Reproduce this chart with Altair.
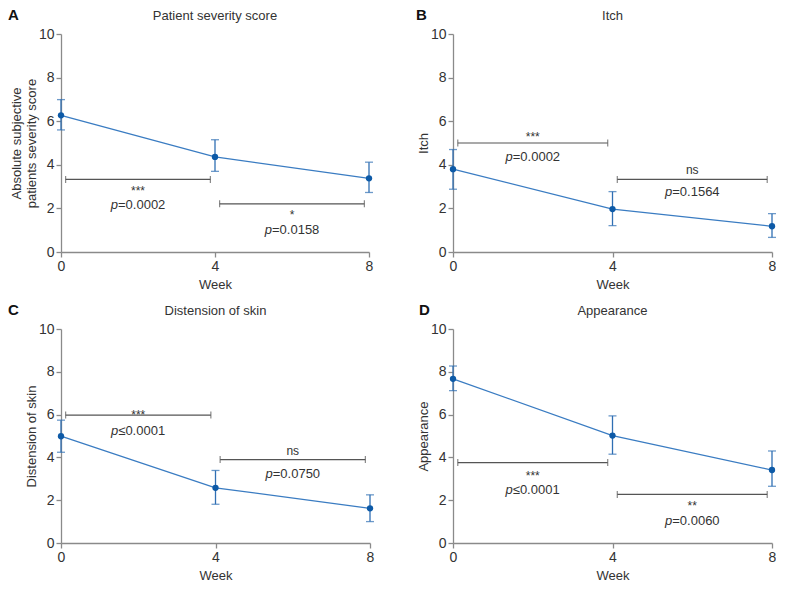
import altair as alt
import pandas as pd

FONT = "Liberation Sans"
LINE_C = "#3a7cc2"
PT_C = "#0d5aa7"
ERR_C = "#2f6fb3"
BR_C = "#555555"
TXT_C = "#333333"

weeks = [0, 4, 8]

# Panel A
a_mean = [6.27, 4.36, 3.38]
a_low = [5.60, 3.70, 2.73]
a_high = [6.99, 5.15, 4.12]
a_br_x1 = [0.12, 4.12]
a_br_x2 = [3.88, 7.88]
a_br_y = [3.33, 2.21]
a_star = ["***", "*"]
a_star_y = [2.60, 1.53]
a_p = ["=0.0002", "=0.0158"]
a_p_y = [1.95, 0.82]

# Panel B
b_mean = [3.80, 1.97, 1.18]
b_low = [2.88, 1.21, 0.67]
b_high = [4.70, 2.77, 1.76]
b_br_x1 = [0.12, 4.12]
b_br_x2 = [3.88, 7.88]
b_br_y = [5.00, 3.33]
b_star = ["***", "ns"]
b_star_y = [5.08, 3.60]
b_p = ["=0.0002", "=0.1564"]
b_p_y = [4.18, 2.55]

# Panel C
c_mean = [4.99, 2.58, 1.62]
c_low = [4.24, 1.81, 1.00]
c_high = [5.74, 3.39, 2.25]
c_br_x1 = [0.12, 4.12]
c_br_x2 = [3.88, 7.88]
c_br_y = [5.98, 3.90]
c_star = ["***", "ns"]
c_star_y = [5.80, 4.13]
c_p = ["\u22640.0001", "=0.0750"]
c_p_y = [5.05, 3.06]

# Panel D
d_mean = [7.67, 5.02, 3.41]
d_low = [7.12, 4.15, 2.65]
d_high = [8.27, 5.94, 4.30]
d_br_x1 = [0.12, 4.12]
d_br_x2 = [3.88, 7.88]
d_br_y = [3.76, 2.27]
d_star = ["***", "**"]
d_star_y = [2.95, 1.52]
d_p = ["\u22640.0001", "=0.0060"]
d_p_y = [2.30, 0.85]

x_ticks = [0, 4, 8]
y_ticks = [0, 2, 4, 6, 8, 10]


def panel(letter, name, ytitle, mean, low, high, bx1, bx2, by, star, star_y,
          ptxt, p_y, width, letter_x, height):
    df = pd.DataFrame({"week": weeks, "mean": mean, "low": low, "high": high})
    br = pd.DataFrame({"x1": bx1, "x2": bx2, "y": by, "star": star,
                       "sy": star_y, "p": ptxt, "py": p_y,
                       "xm": [(a + b) / 2 for a, b in zip(bx1, bx2)]})
    xs = alt.Scale(domain=[0, 8], nice=False, padding=0)
    ys = alt.Scale(domain=[0, 10], nice=False, padding=0)
    xax = alt.Axis(values=x_ticks, title="Week", format="d", labelFlush=False)
    yax = alt.Axis(values=y_ticks, title=ytitle, format="d", labelFlush=False)

    base = alt.Chart(df)
    line = base.mark_line(color=LINE_C, strokeWidth=1.3).encode(
        x=alt.X("week:Q", scale=xs, axis=xax),
        y=alt.Y("mean:Q", scale=ys, axis=yax))
    err = base.mark_rule(color=ERR_C, strokeWidth=1.3).encode(
        x="week:Q", y="low:Q", y2="high:Q")
    cap_lo = base.mark_tick(color=ERR_C, orient="horizontal", size=8,
                            thickness=1.3).encode(x="week:Q", y="low:Q")
    cap_hi = base.mark_tick(color=ERR_C, orient="horizontal", size=8,
                            thickness=1.3).encode(x="week:Q", y="high:Q")
    pts = base.mark_point(filled=True, color=PT_C, size=40, opacity=1).encode(
        x="week:Q", y="mean:Q")

    bb = alt.Chart(br)
    brl = bb.mark_rule(color=BR_C, strokeWidth=1.2).encode(
        x="x1:Q", x2="x2:Q", y="y:Q")
    bt1 = bb.mark_tick(color=BR_C, orient="vertical", size=7,
                       thickness=1.2).encode(x="x1:Q", y="y:Q")
    bt2 = bb.mark_tick(color=BR_C, orient="vertical", size=7,
                       thickness=1.2).encode(x="x2:Q", y="y:Q")
    stars = bb.mark_text(font=FONT, fontSize=12, color=TXT_C, align="center",
                         baseline="alphabetic").encode(
        x="xm:Q", y="sy:Q", text="star:N")
    pit = bb.mark_text(font=FONT, fontSize=13, color=TXT_C, fontStyle="italic",
                       align="right", baseline="alphabetic", dx=-20).encode(
        x="xm:Q", y="py:Q", text=alt.value("p"))
    prest = bb.mark_text(font=FONT, fontSize=13, color=TXT_C, align="left",
                         baseline="alphabetic", dx=-20).encode(
        x="xm:Q", y="py:Q", text="p:N")

    lab = pd.DataFrame({"letter": [letter], "name": [name]})
    lb = alt.Chart(lab)
    let = lb.mark_text(font=FONT, fontSize=15, fontWeight="bold", color="#111",
                       align="left", baseline="alphabetic").encode(
        x=alt.value(letter_x), y=alt.value(-14), text="letter:N")
    nm = lb.mark_text(font=FONT, fontSize=13, color=TXT_C, align="center",
                      baseline="alphabetic").encode(
        x=alt.value(width / 2), y=alt.value(-14), text="name:N")

    return alt.layer(err, cap_lo, cap_hi, line, pts, brl, bt1, bt2, stars,
                     pit, prest, let, nm).properties(width=width, height=height)


pa = panel("A", "Patient severity score",
           ["Absolute subjective", "patients severity  score"],
           a_mean, a_low, a_high, a_br_x1, a_br_x2, a_br_y, a_star, a_star_y,
           a_p, a_p_y, 308, -53, 218)
pb = panel("B", "Itch", "Itch", b_mean, b_low, b_high, b_br_x1, b_br_x2,
           b_br_y, b_star, b_star_y, b_p, b_p_y, 319, -37, 218)
pc = panel("C", "Distension of skin", "Distension of skin", c_mean, c_low,
           c_high, c_br_x1, c_br_x2, c_br_y, c_star, c_star_y, c_p, c_p_y, 309,
           -53, 214)
pd_ = panel("D", "Appearance", "Appearance", d_mean, d_low, d_high, d_br_x1,
            d_br_x2, d_br_y, d_star, d_star_y, d_p, d_p_y, 319, -34, 214)

top = alt.hconcat(pa, pb, spacing=84, bounds="flush")
bottom = alt.hconcat(pc, pd_, spacing=83, bounds="flush")

chart = alt.vconcat(top, bottom, spacing=12).properties(
    padding={"left": 0, "top": 0, "right": 0, "bottom": 0}
).configure(
    padding={"left": 0, "top": 0, "right": 0, "bottom": 0}
).configure_axis(
    labelFont=FONT, titleFont=FONT, labelFontSize=14, titleFontSize=13,
    titleFontWeight="normal", labelColor=TXT_C, titleColor=TXT_C,
    domainColor="#8a8a8a", tickColor="#8a8a8a", domainWidth=1.3,
    tickWidth=1.3, tickSize=5, labelPadding=2, grid=False
).configure_axisX(titlePadding=5).configure_axisY(titlePadding=0
).configure_view(stroke=None)

chart.save("out.html", embed_options={"renderer": "svg", "actions": False})
